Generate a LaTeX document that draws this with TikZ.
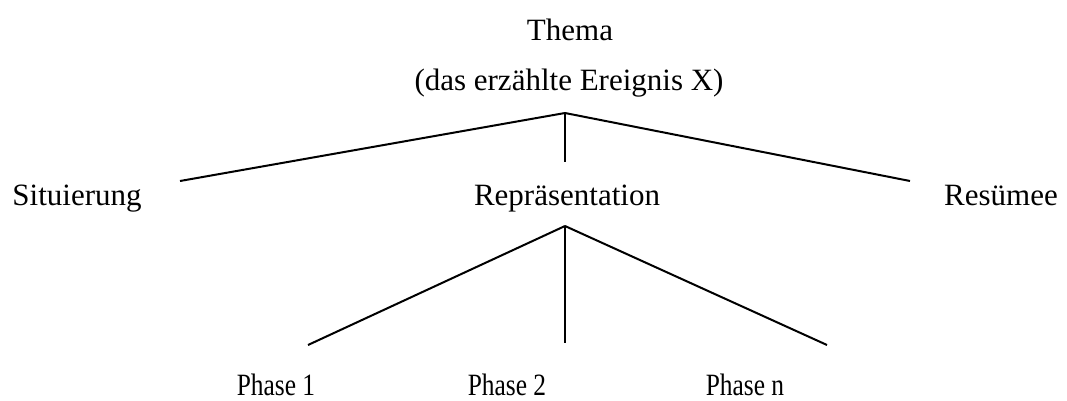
\documentclass[tikz,border=0pt]{standalone}
\usepackage{fontspec}
\setmainfont{Liberation Serif}
\usepackage{graphicx}
\begin{document}
\begin{tikzpicture}[x=0.75pt,y=-0.75pt,
  lbl/.style={anchor=base,inner sep=0pt,font=\fontsize{23.25}{28}\selectfont},
  phase/.style={lbl},
  edge/.style={draw=black,line width=1.5pt}]
\useasboundingbox (0,0) rectangle (1067,400);
% labels
\node[lbl] (thema) at (570,40) {Thema};
\node[lbl] (ereignis) at (569,90) {(das erzählte Ereignis X)};
\node[lbl] (sit) at (77,205) {Situierung};
\node[lbl] (rep) at (567,205) {Repräsentation};
\node[lbl] (res) at (1001,205) {Resümee};
\node[phase] (p1) at (276,395) {\scalebox{0.82}[1]{Phase 1}};
\node[phase] (p2) at (507,395) {\scalebox{0.82}[1]{Phase 2}};
\node[phase] (pn) at (745,395) {\scalebox{0.82}[1]{Phase n}};
% connector points
\coordinate (a1) at (565,113);
\coordinate (e1) at (180,181);
\coordinate (e2) at (565,162);
\coordinate (e3) at (910,181);
\coordinate (a2) at (565,226);
\coordinate (f1) at (308,345);
\coordinate (f2) at (565,343);
\coordinate (f3) at (827,345);
% connectors
\draw[edge] (a1) -- (e1);
\draw[edge] (a1) -- (e2);
\draw[edge] (a1) -- (e3);
\draw[edge] (a2) -- (f1);
\draw[edge] (a2) -- (f2);
\draw[edge] (a2) -- (f3);
\end{tikzpicture}
\end{document}
